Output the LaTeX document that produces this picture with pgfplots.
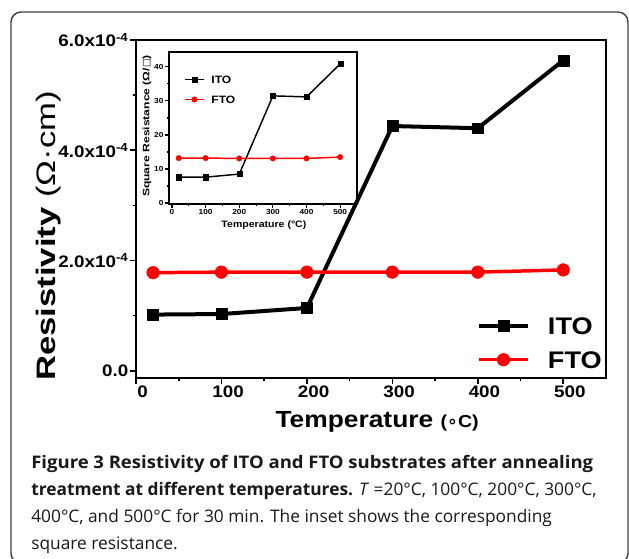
\documentclass[border=0pt]{standalone}
\usepackage{pgfplots}
\pgfplotsset{compat=1.18}
\usepackage{fontspec}
\setmainfont{Liberation Sans}
\newfontfamily\cf{Liberation Sans}[FakeStretch=1.13]
\newfontfamily\cfy{Liberation Sans}[FakeStretch=1.3]
\newfontfamily\capf{Open Sans}
\newfontfamily\capfw{Open Sans}[FakeStretch=1.07]
\newfontfamily\symf{DejaVu Sans}
\begin{document}
\begin{tikzpicture}
\path[use as bounding box] (0pt,0pt) rectangle (471.75pt,418.5pt);
\draw[line width=1.1pt, black!75, rounded corners=7.5pt] (8.25pt,-4pt) rectangle (471pt,409.5pt);
% main axis
\begin{axis}[
  at={(102pt,135pt)}, anchor=south west,
  width=352.5pt, height=253.5pt, scale only axis,
  xmin=0, xmax=550, ymin=-0.13, ymax=6,
  xtick={0,100,...,500}, minor x tick num=1,
  ytick={0,2,4,6}, minor y tick num=1,
  yticklabels={0.0, 2.0x10\textsuperscript{-4}, 4.0x10\textsuperscript{-4}, 6.0x10\textsuperscript{-4}},
  /pgf/number format/assume math mode=true,
  tick align=outside, xtick pos=left, ytick pos=left,
  major tick length=4.5pt, minor tick length=2.5pt,
  axis line style={line width=1.5pt},
  tick style={line width=1.2pt, black},
  xticklabel style={font=\cf\bfseries\fontsize{12.5}{14}\selectfont, xshift=5pt, inner sep=1pt},
  yticklabel style={font=\cf\bfseries\fontsize{12.5}{14}\selectfont, inner sep=1pt},
  xlabel={\cf\bfseries\fontsize{17.5}{20}\selectfont Temperature {\fontsize{13}{15}\selectfont(\symf∘\cf C)}},
  xlabel style={at={(axis description cs:0.513,-0.145)}, anchor=base},
  ylabel={\cfy\fontsize{20}{22}\selectfont\bfseries Resistivity \mdseries(Ω·cm)},
  ylabel style={at={(axis description cs:-0.187,0.42)}, anchor=center},
  legend image code/.code={\draw[mark repeat=2,mark phase=2,#1] plot coordinates {(0pt,0pt) (18.4pt,0pt) (36.75pt,0pt)};},
  legend style={draw=none, fill=none, at={(axis description cs:1,0)}, anchor=south east, xshift=-3pt, yshift=7pt,
    inner sep=0pt, row sep=12.5pt, column sep=13.5pt,
    nodes={inner sep=0pt, text height=13pt, text depth=0pt},
    font=\cf\bfseries\fontsize{18}{20}\selectfont},
  legend cell align=left,
]
\addplot[black, line width=3pt, line join=round, mark=square*, mark size=4.1pt, mark options={solid, line width=0.3pt}]
  coordinates {(20,1.02)(100,1.03)(200,1.14)(300,4.44)(400,4.40)(500,5.63)};
\addlegendentry{ITO}
\addplot[red, line width=2.6pt, line join=round, mark=*, mark size=4.75pt, mark options={solid, line width=0.3pt}]
  coordinates {(20,1.78)(100,1.79)(200,1.79)(300,1.79)(400,1.79)(500,1.83)};
\addlegendentry{FTO}
\end{axis}
% inset
\begin{axis}[
  at={(126.75pt,265.5pt)}, anchor=south west,
  width=141pt, height=114pt, scale only axis,
  xmin=-9, xmax=550, ymin=-0.3, ymax=44.4,
  xtick={0,100,...,500}, minor x tick num=1,
  ytick={0,10,...,40}, minor y tick num=1,
  /pgf/number format/assume math mode=true,
  tick align=outside, xtick pos=left, ytick pos=left,
  major tick length=3pt, minor tick length=1.5pt,
  axis line style={line width=1pt},
  tick style={line width=0.8pt, black},
  ticklabel style={font=\cf\bfseries\fontsize{5.5}{6}\selectfont, inner sep=1pt},
  xlabel={\cf\bfseries\fontsize{7}{8}\selectfont Temperature (°C)},
  xlabel style={at={(axis description cs:0.505,-0.138)}, anchor=center},
  ylabel={\cfy\bfseries\fontsize{7}{8}\selectfont Square Resistance (Ω/{\symf □})},
  ylabel style={at={(axis description cs:-0.117,0.513)}, anchor=center},
  legend image code/.code={\draw[mark repeat=2,mark phase=2,#1] plot coordinates {(0pt,0pt) (7.1pt,0pt) (14.25pt,0pt)};},
  legend style={draw=none, fill=none, at={(axis description cs:0.08,0.845)}, anchor=north west,
    inner sep=0pt, row sep=9.5pt, column sep=5pt,
    nodes={inner sep=0pt, text height=5.5pt, text depth=0pt},
    font=\cf\bfseries\fontsize{8}{9}\selectfont},
  legend cell align=left,
]
\addplot[black, line width=1.1pt, mark=square*, mark size=1.9pt, mark options={solid, line width=0.2pt}]
  coordinates {(20,7.6)(100,7.6)(200,8.5)(300,31.5)(400,31.2)(500,40.9)};
\addlegendentry{ITO}
\addplot[red, line width=1.1pt, mark=*, mark size=2.1pt, mark options={solid, line width=0.2pt}]
  coordinates {(20,13.2)(100,13.2)(200,13.1)(300,13.1)(400,13.1)(500,13.5)};
\addlegendentry{FTO}
\end{axis}
% caption
\begin{scope}[every node/.style={anchor=base west, inner sep=0pt, text=black!90, font=\capf\fontsize{13}{15}\selectfont}]
\node at (23.25pt,67.5pt) {\makebox[421.5pt][s]{\capfw\bfseries Figure 3 Resistivity of ITO and FTO substrates after annealing}};
\node at (23.25pt,47.25pt) {\bfseries treatment at different temperatures.\mdseries{} \textit{T} =20°C, 100°C, 200°C, 300°C,};
\node at (23.25pt,27pt) {400°C, and 500°C for 30 min. The inset shows the corresponding};
\node at (23.25pt,6.75pt) {square resistance.};
\end{scope}
\end{tikzpicture}
\end{document}
